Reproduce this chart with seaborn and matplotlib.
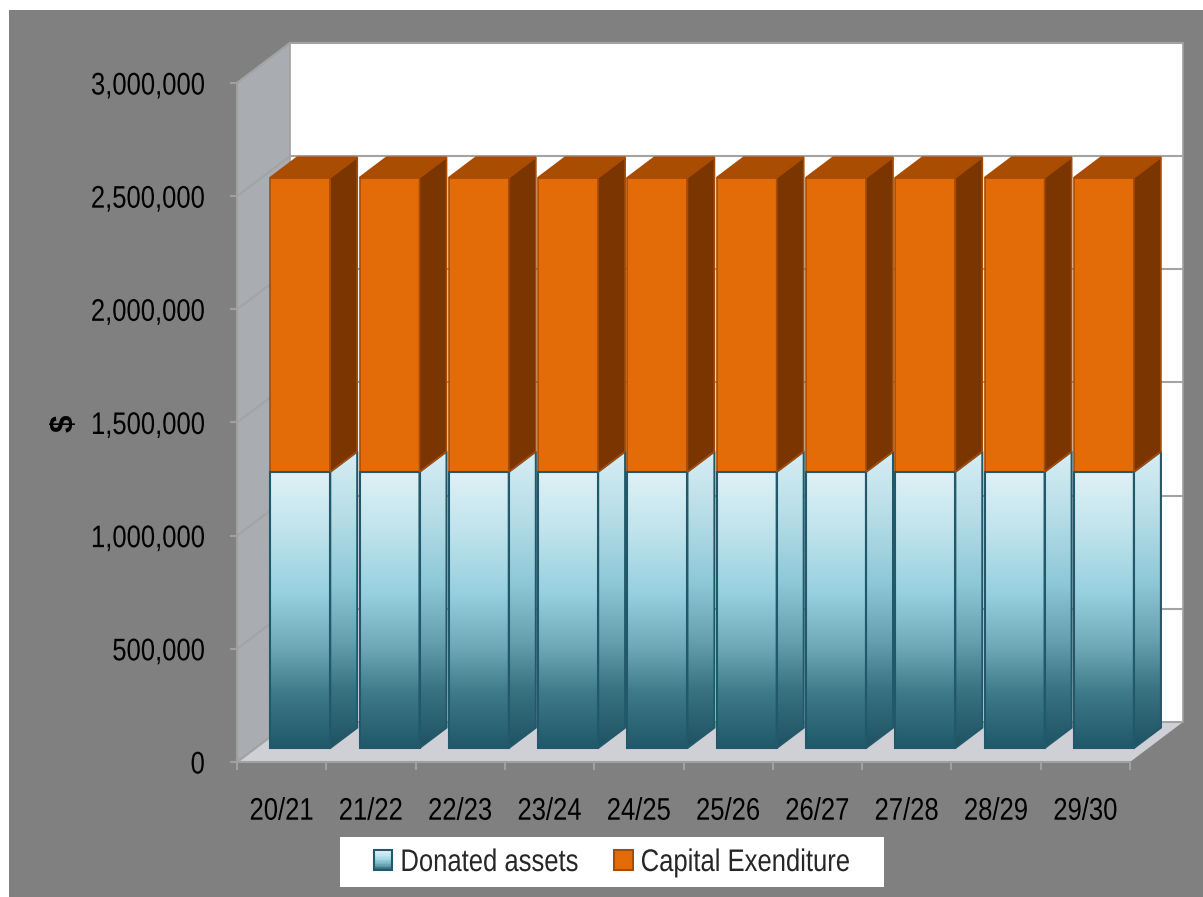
import numpy as np
import pandas as pd
import matplotlib
matplotlib.use("Agg")
import matplotlib.pyplot as plt
import seaborn as sns
from matplotlib import transforms, font_manager
from matplotlib.patches import Polygon, Rectangle, Patch
from matplotlib.colors import LinearSegmentedColormap
from matplotlib.legend_handler import HandlerBase
from matplotlib.patheffects import AbstractPathEffect

# ---- data -------------------------------------------------------------
years = ["20/21", "21/22", "22/23", "23/24", "24/25",
         "25/26", "26/27", "27/28", "28/29", "29/30"]
donated_assets = [1220000, 1220000, 1220000, 1220000, 1220000,
                  1220000, 1220000, 1220000, 1220000, 1220000]
capital_expenditure = [1300000, 1300000, 1300000, 1300000, 1300000,
                       1300000, 1300000, 1300000, 1300000, 1300000]
series_names = ["Donated assets", "Capital Exenditure"]
y_ticks = [0, 500000, 1000000, 1500000, 2000000, 2500000, 3000000]
y_axis_label = "$"

# ---- styling ----------------------------------------------------------
W, H, DPI = 1203, 897, 100
ORANGE = "#e36c09"
ORANGE_EDGE = "#a94c02"
ORANGE_SIDE = "#7b3501"
ORANGE_TOP = "#a94d02"
TEAL_EDGE = "#22596a"
GRID = "#a3a3a3"
teal_cmap = LinearSegmentedColormap.from_list(
    "teal", [(0.0, "#20586a"), (0.2, "#3f7a89"), (0.36, "#6ea8b6"),
             (0.55, "#95cfde"), (0.78, "#bfe3ec"), (1.0, "#e0f1f6")])
teal_side_cmap = LinearSegmentedColormap.from_list(
    "teal_side", [(0.0, "#1e5262"), (0.2, "#3a7382"), (0.36, "#66a0ae"),
                  (0.55, "#8dc7d6"), (0.78, "#b6dde7"), (1.0, "#d8edf3")])

sns.set_theme(style="white")
installed = {f.name for f in font_manager.fontManager.ttflist}
narrow = "Liberation Sans Narrow" in installed
main_font = "Liberation Sans Narrow" if narrow else "Liberation Sans"
plt.rcParams["font.family"] = [main_font, "DejaVu Sans"]
FS = 22.5
SQUEEZE = 1.0 if narrow else 0.82


class Condense(AbstractPathEffect):
    """Narrow the glyph outlines horizontally around a fixed anchor."""

    def __init__(self, sx, anchor):
        super().__init__()
        self.sx = sx
        self.anchor = anchor

    def draw_path(self, renderer, gc, tpath, affine, rgbFace=None):
        ext = tpath.get_extents()
        cx = ext.x0 + self.anchor * (ext.x1 - ext.x0)
        pre = transforms.Affine2D().translate(-cx, 0).scale(self.sx, 1).translate(cx, 0)
        renderer.draw_path(gc, tpath, pre + affine, rgbFace)


fig = plt.figure(figsize=(W / DPI, H / DPI), dpi=DPI, facecolor="white")
fig.add_artist(Rectangle((9 / W, 0), 1 - 9 / W, 1 - 10 / H, transform=fig.transFigure,
                         facecolor="#808080", edgecolor="none", zorder=-10))

# front plane of the floor: x from 237 to 1130 px, y from 762 (0) to 83 (3M)
ax = fig.add_axes([237 / W, 1 - 762 / H, 893 / W, 679 / H])
ax.set_facecolor("none")
XMIN, XMAX = -0.5, len(years) - 0.5
YMAX = y_ticks[-1]
ax.set_xlim(XMIN, XMAX)
ax.set_ylim(0, YMAX)

# full depth of the box, in data units
DX = 53 / 89.3
DY = 40 / 679 * YMAX
Z_FRONT = 0.35   # depth of bar front faces
Z_BAR = 0.51     # depth of the bars themselves


def depth(z):
    return transforms.Affine2D().translate(z * DX, z * DY) + ax.transData


# ---- walls, floor and gridlines ----------------------------------------
ax.add_patch(Polygon([(XMIN, 0), (XMAX, 0), (XMAX + DX, DY), (XMIN + DX, DY)],
                     closed=True, facecolor="#cfd0d6", edgecolor="none",
                     zorder=0.1, clip_on=False))
ax.add_patch(Polygon([(XMIN, 0), (XMIN + DX, DY), (XMIN + DX, YMAX + DY), (XMIN, YMAX)],
                     closed=True, facecolor="#a9acb1", edgecolor="#a0a0a0", lw=1.2,
                     zorder=0.1, clip_on=False))
ax.add_patch(Rectangle((XMIN + DX, DY), XMAX - XMIN, YMAX, facecolor="white",
                       edgecolor="#a0a0a0", lw=1.2, zorder=0.1, clip_on=False))
for v in y_ticks:
    ax.plot([XMIN + DX, XMAX + DX], [v + DY, v + DY], color=GRID, lw=1.5,
            zorder=0.5, clip_on=False, solid_capstyle="butt")
    ax.plot([XMIN, XMIN + DX], [v, v + DY], color=GRID, lw=1.5,
            zorder=0.5, clip_on=False, solid_capstyle="butt")

# ---- bars ---------------------------------------------------------------
df = pd.DataFrame({"year": years, "donated": donated_assets,
                   "capex": capital_expenditure})
df["total"] = df["donated"] + df["capex"]
BAR_W = 60 / 89.3
sns.barplot(data=df, x="year", y="total", color=ORANGE, saturation=1,
            width=BAR_W, edgecolor=ORANGE_EDGE, linewidth=1.2, ax=ax, zorder=3)
sns.barplot(data=df, x="year", y="donated", color="#95cfde", saturation=1,
            width=BAR_W, edgecolor=TEAL_EDGE, linewidth=1.5, ax=ax, zorder=3)
cap_bars, don_bars = ax.containers[0], ax.containers[1]

shift = depth(Z_FRONT)
grad = np.linspace(0, 1, 256).reshape(-1, 1)
bdx, bdy = Z_BAR * DX, Z_BAR * DY
for p_cap, p_don in zip(cap_bars.patches, don_bars.patches):
    x0, w = p_don.get_x(), p_don.get_width()
    x1 = x0 + w
    h = p_don.get_height()
    tot = p_cap.get_height()
    p_cap.set_y(h)
    p_cap.set_height(tot - h)
    for p in (p_cap, p_don):
        p.set_transform(shift)
        p.set_clip_on(False)
    p_don.set_facecolor("none")

    # gradient front face of the lower segment
    im = ax.imshow(grad, cmap=teal_cmap, origin="lower", aspect="auto",
                   extent=(x0, x1, 0, h), interpolation="bilinear", zorder=2.9)
    im.set_transform(shift)
    im.set_clip_on(False)

    # side face of the lower segment
    side = Polygon([(x1, 0), (x1 + bdx, bdy), (x1 + bdx, h + bdy), (x1, h)],
                   closed=True, facecolor="none", edgecolor=TEAL_EDGE, lw=1.5,
                   transform=shift, zorder=3, clip_on=False)
    ax.add_patch(side)
    im2 = ax.imshow(grad, cmap=teal_side_cmap, origin="lower", aspect="auto",
                    extent=(x1, x1 + bdx, 0, h + bdy), interpolation="bilinear", zorder=2.9)
    im2.set_transform(shift)
    im2.set_clip_box(fig.bbox)
    im2.set_clip_path(side)

    # side and top faces of the upper segment
    ax.add_patch(Polygon([(x1, h), (x1 + bdx, h + bdy), (x1 + bdx, tot + bdy), (x1, tot)],
                         closed=True, facecolor=ORANGE_SIDE, edgecolor=ORANGE_EDGE, lw=1.2,
                         transform=shift, zorder=3, clip_on=False))
    ax.add_patch(Polygon([(x0, tot), (x1, tot), (x1 + bdx, tot + bdy), (x0 + bdx, tot + bdy)],
                         closed=True, facecolor=ORANGE_TOP, edgecolor=ORANGE_EDGE, lw=1.2,
                         transform=shift, zorder=3, clip_on=False))

ax.set_xlim(XMIN, XMAX)
ax.set_ylim(0, YMAX)

# ---- axes ---------------------------------------------------------------
ax.set_xlabel("")
ax.set_ylabel("")
for s in ("top", "right"):
    ax.spines[s].set_visible(False)
for s in ("left", "bottom"):
    ax.spines[s].set_color("#a0a0a0")
    ax.spines[s].set_linewidth(1.5)
    ax.spines[s].set_zorder(0.6)

ax.set_yticks(y_ticks)
ax.set_yticklabels([f"{v:,}" for v in y_ticks])
ax.tick_params(axis="y", direction="out", length=5, width=1.5, color="#a0a0a0",
               pad=18, labelsize=FS, labelcolor="black", left=True)
ax.set_xticks(range(len(years)))
ax.set_xticklabels(years)
ax.tick_params(axis="x", which="major", length=0, pad=25, labelsize=FS,
               labelcolor="black")
ax.set_xticks(np.arange(XMIN, XMAX + 0.01, 1.0), minor=True)
ax.tick_params(axis="x", which="minor", direction="out", length=6, width=1.5,
               color="#a0a0a0", bottom=True)
for lbl in ax.get_yticklabels():
    lbl.set_path_effects([Condense(SQUEEZE, 1.0)])
for lbl in ax.get_xticklabels():
    lbl.set_path_effects([Condense(SQUEEZE, 0.5)])

fig.text(65 / W, 1 - 423 / H, y_axis_label, rotation=90, ha="center", va="center",
         fontsize=FS, fontweight="bold", color="black")


# ---- legend -------------------------------------------------------------
class GradientSquare(HandlerBase):
    def create_artists(self, legend, orig_handle, xdescent, ydescent,
                       width, height, fontsize, trans):
        n = 14
        arts = []
        for i in range(n):
            arts.append(Rectangle((-xdescent, -ydescent + height * i / n), width,
                                  height / n * 1.05, facecolor=teal_cmap(0.15 + 0.85 * i / (n - 1)),
                                  edgecolor="none", transform=trans))
        arts.append(Rectangle((-xdescent, -ydescent), width, height, facecolor="none",
                              edgecolor=TEAL_EDGE, lw=1.5, transform=trans))
        return arts


fig.add_artist(Rectangle((340 / W, 1 - 887 / H), 544 / W, 50 / H, transform=fig.transFigure,
                         facecolor="white", edgecolor="none", zorder=5))
h_don = Patch(facecolor="#95cfde", edgecolor=TEAL_EDGE)
h_cap = Patch(facecolor=ORANGE, edgecolor=ORANGE_EDGE, lw=1.5)
col_gap = 1.15 if narrow else -0.1
leg = fig.legend([h_don, h_cap], series_names, ncol=2, loc="center left",
                 bbox_to_anchor=(374 / W, 1 - 863 / H), frameon=False, fontsize=FS,
                 handlelength=0.58, handleheight=0.58, handletextpad=0.25,
                 columnspacing=col_gap, borderpad=0, borderaxespad=0,
                 handler_map={h_don: GradientSquare()})
leg.set_zorder(6)
for t in leg.get_texts():
    t.set_path_effects([Condense(SQUEEZE, 0.0)])

fig.savefig("out.png", dpi=DPI, facecolor="white")
